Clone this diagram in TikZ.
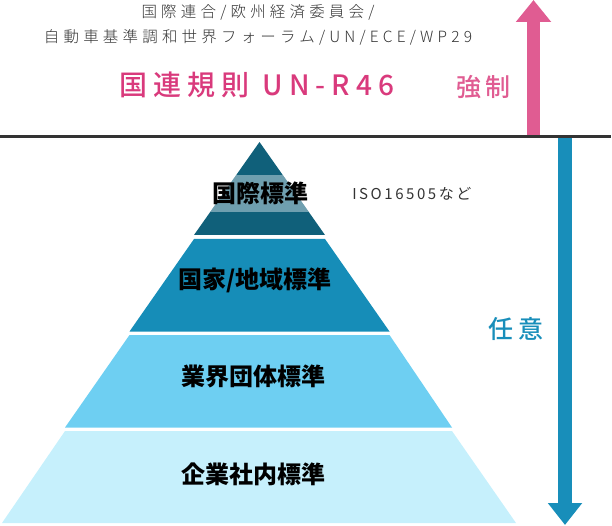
\documentclass[tikz,border=0pt]{standalone}
\usepackage{fontspec}
\usepackage{xcolor}
\usepackage{tikz}
\usetikzlibrary{arrows.meta, positioning}
\setmainfont{Noto Sans CJK JP}
\newfontfamily\widejp{Noto Sans CJK JP}[LetterSpace=27, UprightFont={* Light}]
\newfontfamily\midjp{Noto Sans CJK JP}[LetterSpace=17, BoldFont={* Medium}]
\newfontfamily\rulejp{Noto Sans CJK JP}[LetterSpace=22, BoldFont={* Medium}]
\definecolor{RulePink}{RGB}{217, 58, 124}
\definecolor{ForcePink}{RGB}{224, 92, 146}
\definecolor{FreeBlue}{RGB}{24, 142, 186}
\definecolor{LineGray}{RGB}{51, 51, 51}
\definecolor{TextGray}{RGB}{51, 51, 51}
\definecolor{TierOne}{RGB}{16, 96, 122}
\definecolor{TierTwo}{RGB}{22, 141, 184}
\definecolor{TierThree}{RGB}{110, 207, 242}
\definecolor{TierFour}{RGB}{198, 240, 252}
\tikzset{
  tierlabel/.style={font=\bfseries\fontsize{24}{28}\selectfont,text=black,inner sep=0pt},
  orglabel/.style={font=\widejp\fontsize{15.5}{18}\selectfont,text=TextGray,inner sep=0pt},
  notelabel/.style={font=\midjp\fontsize{15}{18}\selectfont,text=TextGray,inner sep=0pt},
  sidelabel/.style={font=\midjp\bfseries\fontsize{25}{28}\selectfont,inner sep=0pt}
}

\begin{document}
\begin{tikzpicture}[x=1pt,y=1pt]
    \useasboundingbox (0,0) rectangle (612,525);
    % pyramid tiers
    \fill[TierOne] (259.5,383) -- (325,290) -- (194,290) -- cycle;
    \begin{scope}
      \clip (259.5,383) -- (325,290) -- (194,290) -- cycle;
      \fill[white,opacity=0.4] (150,313.3) rectangle (370,350);
    \end{scope}
    \fill[TierTwo] (194,286) -- (325,286) -- (389.5,193.5) -- (129.5,193.5) -- cycle;
    \fill[TierThree] (129.5,190) -- (389.5,190) -- (452,97.5) -- (65,97.5) -- cycle;
    \fill[TierFour] (65,94) -- (452,94) -- (516,2) -- (2,2) -- cycle;
    \node[tierlabel] (intl) at (260.5,332) {国際標準};
    \node[tierlabel] (natl) at (255,245) {国家/地域標準};
    \node[tierlabel] (indus) at (253,148.3) {業界団体標準};
    \node[tierlabel] (corp) at (253,51) {企業社内標準};
    \node[notelabel] (iso) at (411.8,331) {ISO16505など};
    % regulation
    \node[orglabel] (orgone) at (258,512.5) {国際連合/欧州経済委員会/};
    \node[orglabel] (orgtwo) at (258,487.5) {自動車基準調和世界フォーラム/UN/ECE/WP29};
    \node[font=\rulejp\bfseries\fontsize{28}{32}\selectfont,text=RulePink,inner sep=0pt] (rule) at (257,439.8) {国連規則 UN-R46};
    % arrows
    \coordinate (forcebase) at (533.5,388);
    \coordinate (forcetip) at (533.5,525);
    \coordinate (freebase) at (565,387);
    \coordinate (freetip) at (565,0);
    \draw[ForcePink,line width=13.5pt,-{Triangle[width=34pt,length=22pt]}] (forcebase) -- (forcetip);
    \draw[FreeBlue,line width=14pt,-{Triangle[width=33pt,length=22pt]}] (freebase) -- (freetip);
    \node[sidelabel,text=ForcePink] (force) at (483.5,438.3) {強制};
    \node[sidelabel,text=FreeBlue] (free) at (515.9,196.3) {任意};
    \draw[LineGray,line width=2.7pt] (0,388.3) -- (611,388.3);
  \end{tikzpicture}
\end{document}
